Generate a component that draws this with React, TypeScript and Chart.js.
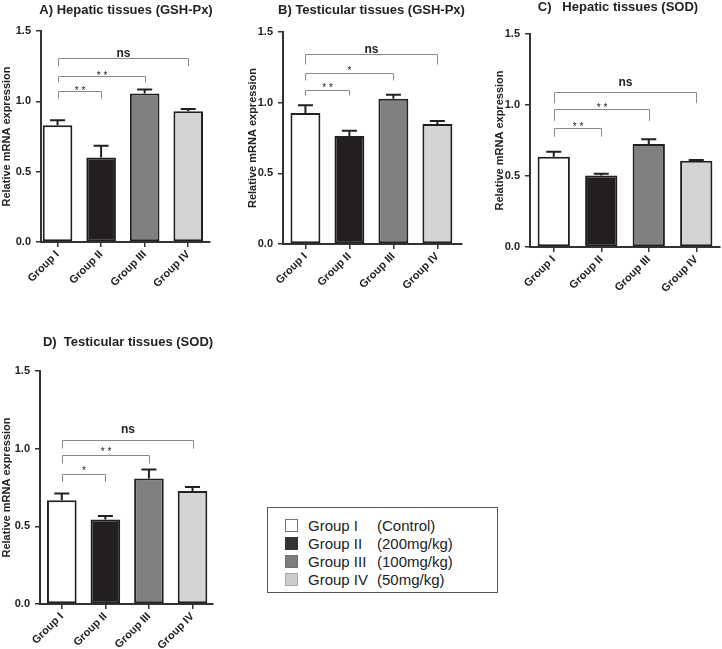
import React, { useEffect, useRef } from 'react';
import { Chart, registerables } from 'chart.js';

Chart.register(...registerables);

// ---------- data ----------
const groups = ['Group I', 'Group II', 'Group III', 'Group IV'];
const doses = ['(Control)', '(200mg/kg)', '(100mg/kg)', '(50mg/kg)'];

const hepaticGpx = [0.83, 0.6, 1.055, 0.93];
const hepaticGpxErr = [0.035, 0.085, 0.03, 0.015];

const testicularGpx = [0.927, 0.764, 1.028, 0.849];
const testicularGpxErr = [0.054, 0.037, 0.028, 0.021];

const hepaticSod = [0.636, 0.504, 0.725, 0.607];
const hepaticSodErr = [0.035, 0.011, 0.033, 0.006];

const testicularSod = [0.668, 0.544, 0.808, 0.728];
const testicularSodErr = [0.043, 0.022, 0.058, 0.026];

// significance brackets: group index from/to, bracket level, end level, label
const bracketsA = [
  { from: 0, to: 1, y: 1.07, end: 1.02, label: '* *' },
  { from: 0, to: 2, y: 1.18, end: 1.135, label: '* *' },
  { from: 0, to: 3, y: 1.31, end: 1.25, label: 'ns' },
];
const bracketsB = [
  { from: 0, to: 1, y: 1.087, end: 1.05, label: '* *' },
  { from: 0, to: 2, y: 1.21, end: 1.156, label: '*' },
  { from: 0, to: 3, y: 1.345, end: 1.27, label: 'ns' },
];
const bracketsC = [
  { from: 0, to: 1, y: 0.836, end: 0.777, label: '* *' },
  { from: 0, to: 2, y: 0.97, end: 0.888, label: '* *' },
  { from: 0, to: 3, y: 1.09, end: 1.013, label: 'ns' },
];
const bracketsD = [
  { from: 0, to: 1, y: 0.84, end: 0.786, label: '*' },
  { from: 0, to: 2, y: 0.962, end: 0.904, label: '* *' },
  { from: 0, to: 3, y: 1.058, end: 1.0, label: 'ns' },
];

const yTicks = [0, 0.5, 1.0, 1.5];
const yAxisTitle = 'Relative mRNA expression';

// ---------- styles ----------
const FONT = '"Liberation Sans", Arial, Helvetica, sans-serif';
const barFills = ['#ffffff', '#231f20', '#808080', '#d4d4d4'];
const legendFills = ['#ffffff', '#333333', '#7d7d7d', '#cccccc'];
const legendBorders = ['#777777', '#333333', '#707070', '#a8a8a8'];
const INK = '#222222';
const AXIS = '#333333';
const BRACKET = '#8a8a8a';

type Bracket = { from: number; to: number; y: number; end: number; label: string };

type PanelSpec = {
  title: string;
  values: number[];
  errors: number[];
  brackets: Bracket[];
  box: { left: number; top: number; width: number; height: number };
  area: { left: number; top: number; right: number; bottom: number };
  padLeft: number;
  xRange: [number, number];
  titlePos: [number, number];
  nsGap: number;
  starGap: number;
};

const panels: PanelSpec[] = [
  {
    title: 'A) Hepatic tissues (GSH-Px)',
    values: hepaticGpx,
    errors: hepaticGpxErr,
    brackets: bracketsA,
    box: { left: 0, top: 0, width: 240, height: 320 },
    area: { left: 41, top: 31, right: 210, bottom: 242 },
    padLeft: 0,
    xRange: [-0.38, 3.5],
    titlePos: [126, 10],
    nsGap: 6,
    starGap: 4,
  },
  {
    title: 'B) Testicular tissues (GSH-Px)',
    values: testicularGpx,
    errors: testicularGpxErr,
    brackets: bracketsB,
    box: { left: 230, top: 0, width: 240, height: 320 },
    area: { left: 53, top: 32, right: 232, bottom: 244 },
    padLeft: 16,
    xRange: [-0.51, 3.56],
    titlePos: [141.5, 10.5],
    nsGap: 6,
    starGap: 6,
  },
  {
    title: 'C)   Hepatic tissues (SOD)',
    values: hepaticSod,
    errors: hepaticSodErr,
    brackets: bracketsC,
    box: { left: 470, top: 0, width: 252, height: 320 },
    area: { left: 60, top: 34, right: 250, bottom: 247 },
    padLeft: 23,
    xRange: [-0.5, 3.5],
    titlePos: [148, 7.5],
    nsGap: 11,
    starGap: 5,
  },
  {
    title: 'D)  Testicular tissues (SOD)',
    values: testicularSod,
    errors: testicularSodErr,
    brackets: bracketsD,
    box: { left: 0, top: 330, width: 240, height: 319 },
    area: { left: 40, top: 41, right: 213, bottom: 274 },
    padLeft: 0,
    xRange: [-0.5, 3.47],
    titlePos: [128, 12],
    nsGap: 12,
    starGap: 7,
  },
];

// ---------- plugin: error bars, brackets, title ----------
const annotPlugin = {
  id: 'annot',
  afterDatasetsDraw(chart: any, _args: any, opts: any) {
    const ctx = chart.ctx as CanvasRenderingContext2D;
    const xs = chart.scales.x;
    const ys = chart.scales.y;
    const meta = chart.getDatasetMeta(0);
    const data = chart.data.datasets[0].data as { x: number; y: number }[];
    const errs: number[] = opts.errors || [];
    ctx.save();
    // error bars (upper only)
    ctx.strokeStyle = '#231f20';
    ctx.lineWidth = 2;
    meta.data.forEach((bar: any, i: number) => {
      const topPx = ys.getPixelForValue(data[i].y + errs[i]);
      ctx.beginPath();
      ctx.moveTo(bar.x, bar.y);
      ctx.lineTo(bar.x, topPx);
      ctx.moveTo(bar.x - 7.5, topPx);
      ctx.lineTo(bar.x + 7.5, topPx);
      ctx.stroke();
    });
    // brackets
    ctx.strokeStyle = BRACKET;
    ctx.lineWidth = 1;
    ctx.fillStyle = INK;
    ctx.textAlign = 'center';
    (opts.brackets || []).forEach((b: Bracket) => {
      const x1 = Math.round(xs.getPixelForValue(b.from)) + 0.5;
      const x2 = Math.round(xs.getPixelForValue(b.to)) + 0.5;
      const y = Math.round(ys.getPixelForValue(b.y)) + 0.5;
      const ye = ys.getPixelForValue(b.end);
      ctx.beginPath();
      ctx.moveTo(x1, ye);
      ctx.lineTo(x1, y);
      ctx.lineTo(x2, y);
      ctx.lineTo(x2, ye);
      ctx.stroke();
      const cx = (x1 + x2) / 2;
      if (b.label === 'ns') {
        ctx.font = `bold 12px ${FONT}`;
        ctx.textBaseline = 'alphabetic';
        ctx.fillText(b.label, cx, y - opts.nsGap + 4);
      } else {
        ctx.font = `10px ${FONT}`;
        ctx.textBaseline = 'alphabetic';
        ctx.fillText(b.label, cx, y - opts.starGap + 6);
      }
    });
    // panel title
    ctx.font = `bold 13px ${FONT}`;
    ctx.textBaseline = 'middle';
    ctx.textAlign = 'center';
    ctx.fillStyle = INK;
    ctx.fillText(opts.title, opts.titlePos[0], opts.titlePos[1]);
    ctx.restore();
  },
};

function Panel({ spec }: { spec: PanelSpec }) {
  const ref = useRef<HTMLCanvasElement>(null);
  useEffect(() => {
    if (!ref.current) return;
    const { box, area } = spec;
    const yWidth = area.left - spec.padLeft;
    const xHeight = box.height - area.bottom;
    const chart = new Chart(ref.current, {
      type: 'bar',
      data: {
        datasets: [
          {
            data: spec.values.map((v, i) => ({ x: i, y: v })),
            backgroundColor: barFills,
            borderColor: '#231f20',
            borderWidth: 2,
            borderSkipped: false,
            barPercentage: 0.68,
            categoryPercentage: 1,
          },
        ],
      },
      options: {
        responsive: false,
        animation: false,
        devicePixelRatio: 1,
        layout: {
          padding: { left: spec.padLeft, top: area.top, right: box.width - area.right, bottom: 0 },
        },
        plugins: {
          legend: { display: false },
          tooltip: { enabled: false },
          title: { display: false },
          annot: {
            errors: spec.errors,
            brackets: spec.brackets,
            title: spec.title,
            titlePos: spec.titlePos,
            nsGap: spec.nsGap,
            starGap: spec.starGap,
          },
        } as any,
        scales: {
          x: {
            type: 'linear',
            offset: false,
            min: spec.xRange[0],
            max: spec.xRange[1],
            afterBuildTicks: (s: any) => {
              s.ticks = groups.map((_, i) => ({ value: i }));
            },
            afterFit: (s: any) => {
              s.height = xHeight;
            },
            ticks: {
              autoSkip: false,
              minRotation: 45,
              maxRotation: 45,
              padding: 1,
              color: INK,
              font: { family: FONT, size: 11, weight: 'bold' },
              callback: (v: any) => groups[Number(v)] ?? '',
            },
            grid: {
              offset: false,
              drawOnChartArea: false,
              drawTicks: true,
              tickLength: 5,
              color: AXIS,
              lineWidth: 1.5,
            },
            border: { display: true, color: AXIS, width: 2 },
          },
          y: {
            min: 0,
            max: 1.5,
            afterBuildTicks: (s: any) => {
              s.ticks = yTicks.map((v) => ({ value: v }));
            },
            afterFit: (s: any) => {
              s.width = yWidth;
            },
            ticks: {
              padding: 5,
              color: INK,
              font: { family: FONT, size: 11, weight: 'bold' },
              callback: (v: any) => Number(v).toFixed(1),
            },
            grid: { drawOnChartArea: false, drawTicks: true, tickLength: 5, color: AXIS, lineWidth: 1.5 },
            border: { display: true, color: AXIS, width: 2 },
            title: {
              display: true,
              text: yAxisTitle,
              color: INK,
              font: { family: FONT, size: 11, weight: 'bold' },
              padding: { top: 0, bottom: 0 },
            },
          },
        },
      } as any,
      plugins: [annotPlugin as any],
    });
    return () => chart.destroy();
  }, [spec]);
  return (
    <canvas
      ref={ref}
      width={spec.box.width}
      height={spec.box.height}
      style={{
        position: 'absolute',
        left: spec.box.left,
        top: spec.box.top,
        width: spec.box.width,
        height: spec.box.height,
      }}
    />
  );
}

function Legend() {
  return (
    <div
      style={{
        position: 'absolute',
        left: 267,
        top: 507,
        width: 231,
        height: 86,
        border: '1px solid #555',
        boxSizing: 'border-box',
        fontFamily: FONT,
        fontSize: 15,
        color: INK,
      }}
    >
      {groups.map((g, i) => {
        const cy = 17.5 + i * 18.1;
        return (
          <div key={g}>
            <div
              style={{
                position: 'absolute',
                left: 17,
                top: cy - 6.5,
                width: 13,
                height: 13,
                boxSizing: 'border-box',
                background: legendFills[i],
                border: `1px solid ${legendBorders[i]}`,
              }}
            />
            <span style={{ position: 'absolute', left: 40, top: cy - 9, lineHeight: '18px', whiteSpace: 'nowrap' }}>
              {g}
            </span>
            <span style={{ position: 'absolute', left: 109, top: cy - 9, lineHeight: '18px', whiteSpace: 'nowrap' }}>
              {doses[i]}
            </span>
          </div>
        );
      })}
    </div>
  );
}

export default function App() {
  return (
    <div style={{ position: 'absolute', left: 0, top: 0, width: 722, height: 649, background: '#fff', overflow: 'hidden' }}>
      {panels.map((p) => (
        <Panel key={p.title} spec={p} />
      ))}
      <Legend />
    </div>
  );
}
